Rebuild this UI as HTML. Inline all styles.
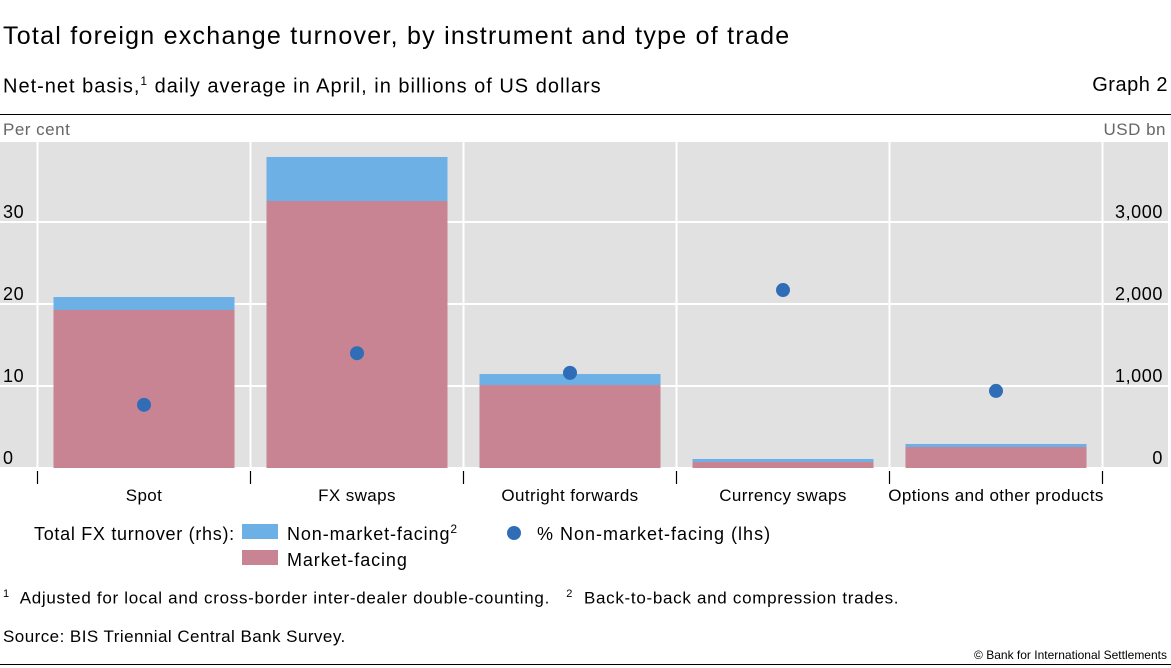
<!DOCTYPE html>
<html><head><meta charset="utf-8"><style>
body{margin:0;background:#fff;font-family:"Liberation Sans",sans-serif;}
#w{position:relative;width:1171px;height:668px;overflow:hidden;}
.t{position:absolute;white-space:nowrap;color:#000;}
</style></head><body>
<div id="w">
<div class="t" style="left:3px;top:22px;font-size:25px;letter-spacing:1.25px;">Total foreign exchange turnover, by instrument and type of trade</div>
<div class="t" style="left:3px;top:74px;font-size:20px;letter-spacing:1px;">Net-net basis,<sup style="font-size:12px">1</sup> daily average in April, in billions of US dollars</div>
<div class="t" style="right:3px;top:74px;font-size:20px;letter-spacing:0.5px;">Graph 2</div>
<div style="position:absolute;left:0;top:114px;width:1171px;height:1px;background:#000"></div>
<svg id="c" width="1171" height="668" style="position:absolute;left:0;top:0"></svg>
<div class="t" style="left:3px;top:588px;font-size:17px;letter-spacing:0.7px;"><sup style="font-size:11px">1</sup>&nbsp; Adjusted for local and cross-border inter-dealer double-counting. &nbsp;&nbsp;<sup style="font-size:11px">2</sup>&nbsp; Back-to-back and compression trades.</div>
<div class="t" style="left:3px;top:627px;font-size:17px;letter-spacing:0.45px;">Source: BIS Triennial Central Bank Survey.</div>
<div class="t" style="right:4px;top:648px;font-size:12px;">© Bank for International Settlements</div>
<div style="position:absolute;left:0;top:664px;width:1171px;height:1px;background:#000"></div>
</div>
<script>
const categories=["Spot","FX swaps","Outright forwards","Currency swaps","Options and other products"];
const marketFacing=[1927,3256,1012,73,256];
const nonMarketFacing=[158,537,134,37,37];
const pctNonMarket=[7.7,14.0,11.6,21.7,9.4];
const leftTicks=[0,10,20,30];
const rightTicks=[0,1000,2000,3000];
const rightTickLabels=["0","1,000","2,000","3,000"];
const NS="http://www.w3.org/2000/svg";
const svg=document.getElementById('c');
const plotTop=142,plotBot=468,x0=37.5,cw=213;
const yR=v=>plotBot-v*0.082;
const yL=v=>plotBot-v*8.2;
const xC=i=>x0+cw*i+cw/2;
function mk(t,a){const e=document.createElementNS(NS,t);for(const k in a)e.setAttribute(k,a[k]);svg.appendChild(e);return e;}
let bg=mk('rect',{x:0,y:plotTop,width:1168,height:plotBot-plotTop,fill:'#e1e1e1'});


rightTicks.forEach((v,i)=>{
 let g=mk('line',{x1:0,x2:1168,y1:yR(v),y2:yR(v),stroke:'#fff','stroke-width':2});
 
 
 let t=mk('text',{x:1163,y:yR(v)-4,'text-anchor':'end','font-size':18,fill:'#000','letter-spacing':0.6});t.textContent=rightTickLabels[i];
 
 
});
leftTicks.forEach(v=>{
 let t=mk('text',{x:3,y:yL(v)-4,'font-size':18,fill:'#000','letter-spacing':0.6});t.textContent=v;
 
 
});
for(let i=0;i<=categories.length;i++){
 let x=x0+cw*i;
 let g=mk('line',{x1:x,x2:x,y1:plotTop,y2:plotBot,stroke:'#fff','stroke-width':2});
 
 
 let tk=mk('line',{x1:x,x2:x,y1:plotBot+3,y2:plotBot+16,stroke:'#000','stroke-width':1.2});
 
 
}
categories.forEach((c,i)=>{
 const bx=xC(i)-90.5,bw=181;
 let r=mk('rect',{x:bx,y:yR(marketFacing[i]),width:bw,height:plotBot-yR(marketFacing[i]),fill:'#c98494'});
 
 
 const tot=marketFacing[i]+nonMarketFacing[i];
 let b=mk('rect',{x:bx,y:yR(tot),width:bw,height:yR(marketFacing[i])-yR(tot),fill:'#6cb0e6'});
 
 
 let d=mk('circle',{cx:xC(i),cy:yL(pctNonMarket[i]),r:7,fill:'#2f6db7'});
 
 
 let t=mk('text',{x:xC(i),y:501,'text-anchor':'middle','font-size':17,fill:'#000','letter-spacing':0.4});t.textContent=c;
 
 
});
function txt(x,y,s,n,sz,fill,ls){let t=mk('text',{x:x,y:y,'font-size':sz||18,fill:fill||'#000','letter-spacing':ls||0});t.textContent=s;return t;}
txt(3,135,'Per cent','left-axis-title',17,'#666',0.5);
let ra=txt(1166,135,'USD bn','right-axis-title',17,'#666',0.5);ra.setAttribute('text-anchor','end');
txt(34,540,'Total FX turnover (rhs):','legend-title',18,'#000',0.7);
let l1=mk('rect',{x:242,y:524,width:36,height:15,fill:'#6cb0e6'});


let lt=txt(287,540,'Non-market-facing','legend-label-non-market',18,'#000',0.9);
let s2=document.createElementNS(NS,'tspan');s2.setAttribute('dy','-7');s2.setAttribute('font-size','12');s2.textContent='2';lt.appendChild(s2);
let l2=mk('rect',{x:242,y:550,width:36,height:15,fill:'#c98494'});


txt(287,566,'Market-facing','legend-label-market',18,'#000',0.9);
let l3=mk('circle',{cx:514,cy:533,r:7,fill:'#2f6db7'});


txt(537,540,'% Non-market-facing (lhs)','legend-label-pct',18,'#000',1);
</script>
</body></html>
